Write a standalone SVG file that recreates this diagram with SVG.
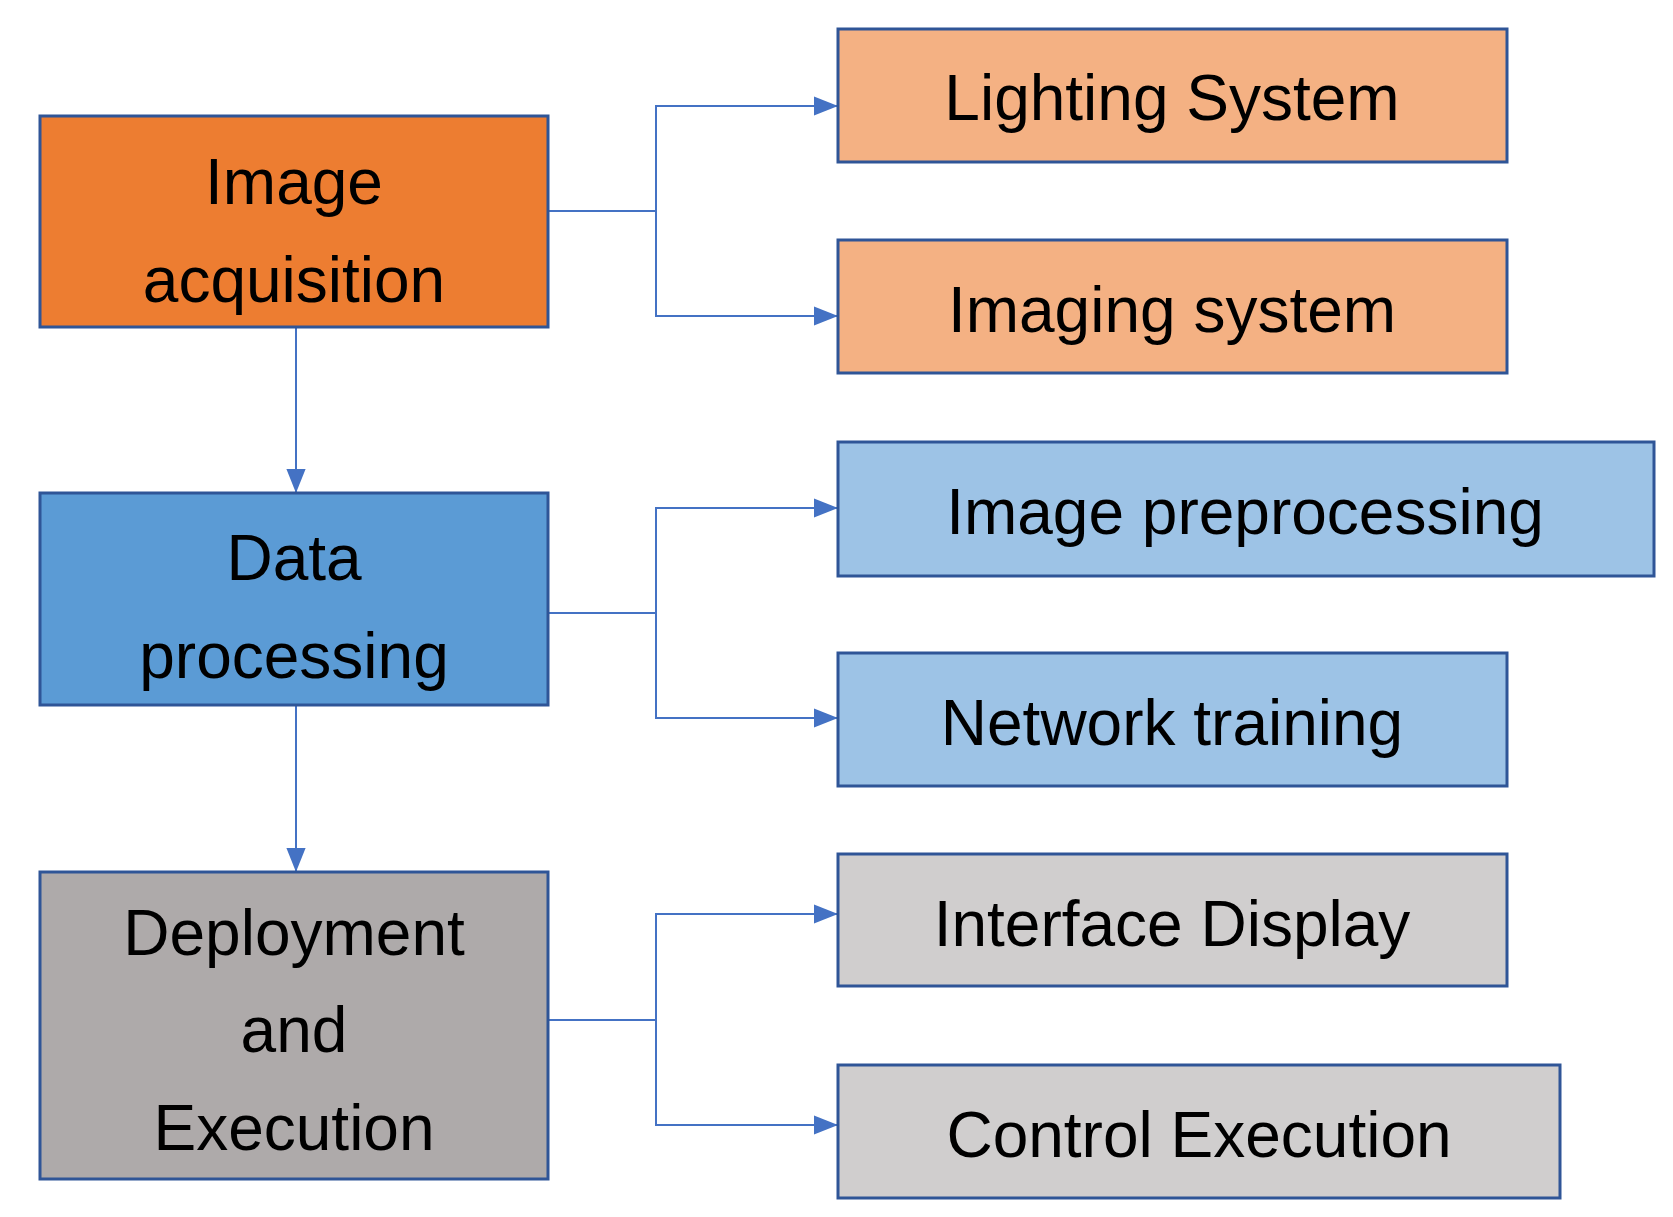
<svg xmlns="http://www.w3.org/2000/svg" width="1673" height="1217" viewBox="0 0 1673 1217">
<style>
.b{stroke:#2F5597;stroke-width:3}
.t{font-family:"Liberation Sans",Arial,sans-serif;font-size:64px;fill:#000;text-anchor:middle}
.c{fill:none;stroke:#4472C4;stroke-width:2}
</style>
<defs><marker id="a" viewBox="0 0 10 10" refX="10" refY="5" markerWidth="8" markerHeight="8" markerUnits="userSpaceOnUse" orient="auto"><path d="M0,0L10,5L0,10z" fill="#4472C4"/></marker>
<marker id="m" viewBox="0 0 10 10" refX="10" refY="5" markerWidth="24" markerHeight="24" markerUnits="userSpaceOnUse" orient="auto"><path d="M0,1L10,5L0,9z" fill="#4472C4"/></marker></defs>
<rect width="1673" height="1217" fill="#fff"/>
<g id="connectors">
<path class="c" marker-end="url(#m)" d="M548,211H656V106H838"/>
<path class="c" marker-end="url(#m)" d="M656,211V316H838"/>
<path class="c" marker-end="url(#m)" d="M548,613H656V508H838"/>
<path class="c" marker-end="url(#m)" d="M656,613V718H838"/>
<path class="c" marker-end="url(#m)" d="M548,1020H656V914H838"/>
<path class="c" marker-end="url(#m)" d="M656,1020V1125H838"/>
<path class="c" marker-end="url(#m)" d="M296,327V493"/>
<path class="c" marker-end="url(#m)" d="M296,705V872"/>
</g>
<g id="n1"><rect class="b" x="40" y="116" width="508" height="211" fill="#ED7D31"/><text class="t" x="294" y="204">Image</text><text class="t" x="294" y="302">acquisition</text></g>
<g id="n2"><rect class="b" x="40" y="493" width="508" height="212" fill="#5B9BD5"/><text class="t" x="294" y="580">Data</text><text class="t" x="294" y="678">processing</text></g>
<g id="n3"><rect class="b" x="40" y="872" width="508" height="307" fill="#AEAAAA"/><text class="t" x="294" y="955">Deployment</text><text class="t" x="294" y="1052">and</text><text class="t" x="294" y="1150">Execution</text></g>
<g id="n4"><rect class="b" x="838" y="29" width="669" height="133" fill="#F4B183"/><text class="t" x="1172" y="120">Lighting System</text></g>
<g id="n5"><rect class="b" x="838" y="240" width="669" height="133" fill="#F4B183"/><text class="t" x="1172" y="332">Imaging system</text></g>
<g id="n6"><rect class="b" x="838" y="442" width="816" height="134" fill="#9DC3E6"/><text class="t" x="1245" y="534">Image preprocessing</text></g>
<g id="n7"><rect class="b" x="838" y="653" width="669" height="133" fill="#9DC3E6"/><text class="t" x="1172" y="745">Network training</text></g>
<g id="n8"><rect class="b" x="838" y="854" width="669" height="132" fill="#D0CECE"/><text class="t" x="1172" y="946">Interface Display</text></g>
<g id="n9"><rect class="b" x="838" y="1065" width="722" height="133" fill="#D0CECE"/><text class="t" x="1199" y="1157">Control Execution</text></g>
</svg>
